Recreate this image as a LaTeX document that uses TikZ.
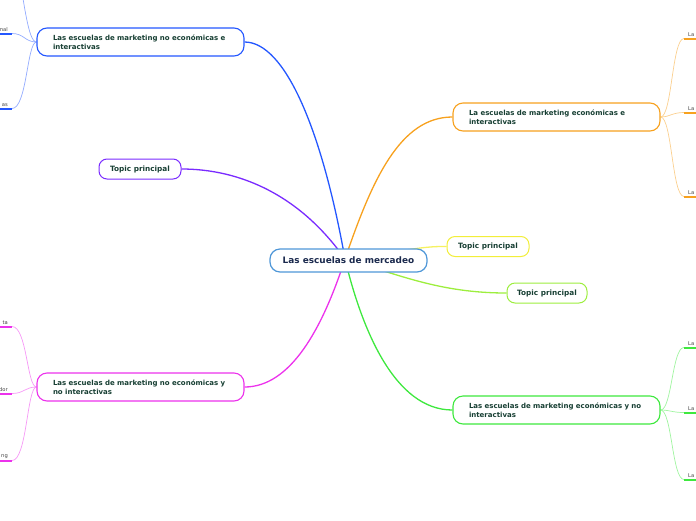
\documentclass[tikz,border=0pt]{standalone}
\usepackage{fontspec}
\setmainfont{DejaVu Sans}
\usetikzlibrary{backgrounds}

\definecolor{txtgreen}{HTML}{173F33}
\definecolor{txtnavy}{HTML}{1B2A4E}
\definecolor{leafgray}{HTML}{444444}
\definecolor{rootblue}{HTML}{4F97D8}
\definecolor{cblue}{HTML}{2457FF}
\definecolor{cpurple}{HTML}{7A2BFF}
\definecolor{corange}{HTML}{F7A11E}
\definecolor{cyellow}{HTML}{F2EE3A}
\definecolor{clime}{HTML}{9DEE3E}
\definecolor{cgreen}{HTML}{3EE83E}
\definecolor{cmagenta}{HTML}{EC32EC}

\begin{document}
\begin{tikzpicture}[x=1pt,y=-1pt,
  topic/.style={draw, rounded corners=10pt, line width=1.1pt, fill=white,
    font=\fontsize{7}{9.5}\selectfont\bfseries, text=txtgreen, align=left,
    text width=175pt, inner xsep=16pt, inner ysep=0pt, minimum height=28pt},
  subtopic/.style={draw, rounded corners=8pt, line width=1pt, fill=white,
    font=\fontsize{7.3}{8}\selectfont\bfseries, text=txtgreen,
    minimum width=82pt, minimum height=20pt, inner sep=0pt},
  leaf/.style={font=\fontsize{5.2}{6}\selectfont, text=leafgray, inner xsep=4pt, inner ysep=1.8pt},
  ul/.style={line width=2pt},
  twig/.style={line width=0.7pt},
  branch/.style={line width=1.3pt}]
\path[use as bounding box] (0,0) rectangle (696,520);

% central topic
\node[draw=rootblue, line width=1.2pt, rounded corners=10pt, fill=white,
  minimum width=157pt, minimum height=23pt, inner sep=0pt,
  font=\fontsize{8.9}{10}\selectfont\bfseries, text=txtnavy] (root) at (348.5,260.5) {Las escuelas de mercadeo};
\coordinate (hub) at (345,259);

% main topics
\node[topic, draw=cblue] (noeint) at (140.5,42) {Las escuelas de marketing no económicas e\\interactivas};
\node[topic, draw=corange] (ecoint) at (556.5,117) {La escuelas de marketing económicas e\\interactivas};
\node[topic, draw=cgreen] (econo) at (556.5,410) {Las escuelas de marketing económicas y no\\interactivas};
\node[topic, draw=cmagenta] (noeno) at (140.5,387) {Las escuelas de marketing no económicas y\\no interactivas};
\node[subtopic, draw=cpurple] (tp1) at (140,169) {Topic principal};
\node[subtopic, draw=cyellow] (tp2) at (488,246.5) {Topic principal};
\node[subtopic, draw=clime, minimum width=80pt] (tp3) at (547,293) {Topic principal};

% leaves, cut by the page edge
\node[leaf, anchor=south east] (b1) at (12,33.5) {nal};
\node[leaf, anchor=south east] (b2) at (12,108.5) {as};
\coordinate (b0) at (18,-30);
\node[leaf, anchor=south east] (m1) at (12,326.5) {ta};
\node[leaf, anchor=south east] (m2) at (12,393.5) {dor};
\node[leaf, anchor=south east] (m3) at (12,460.5) {ng};
\node[leaf, anchor=south west] (o1) at (684,38.5) {La};
\node[leaf, anchor=south west] (o2) at (684,112.5) {La};
\node[leaf, anchor=south west] (o3) at (684,196.5) {La};
\node[leaf, anchor=south west] (g1) at (684,347.5) {La};
\node[leaf, anchor=south west] (g2) at (684,412.5) {La};
\node[leaf, anchor=south west] (g3) at (684,479.5) {La};

\begin{scope}[on background layer]
% branches from the centre
\draw[branch, cblue] (noeint.east) .. controls (285,42) and (322,130) .. (hub);
\draw[branch, cpurple] (tp1.east) .. controls (240,169) and (300,195) .. (hub);
\draw[branch, corange] (ecoint.west) .. controls (400,117) and (372,180) .. (hub);
\draw[branch, cyellow!80!white] (tp2.west) .. controls (420,246) and (400,252) .. (hub);
\draw[branch, clime] (tp3.west) .. controls (440,293) and (400,275) .. (hub);
\draw[branch, cgreen] (econo.west) .. controls (395,410) and (362,330) .. (hub);
\draw[branch, cmagenta] (noeno.east) .. controls (290,387) and (322,330) .. (hub);

% twigs to the leaves
\draw[twig, cblue!50!white] (noeint.west) .. controls (28,42) and (24,0) .. (b0);
\draw[twig, cblue!50!white] (noeint.west) .. controls (25,42) and (24,33.5) .. (b1.south east);
\draw[twig, cblue!50!white] (noeint.west) .. controls (27,42) and (27,108.5) .. (b2.south east);
\draw[twig, cmagenta!50!white] (noeno.west) .. controls (27,387) and (27,326.5) .. (m1.south east);
\draw[twig, cmagenta!50!white] (noeno.west) .. controls (25,387) and (24,393.5) .. (m2.south east);
\draw[twig, cmagenta!50!white] (noeno.west) .. controls (27,387) and (27,460.5) .. (m3.south east);
\draw[twig, corange!50!white] (ecoint.east) .. controls (672,117) and (672,38.5) .. (o1.south west);
\draw[twig, corange!50!white] (ecoint.east) .. controls (670,117) and (672,112.5) .. (o2.south west);
\draw[twig, corange!50!white] (ecoint.east) .. controls (672,117) and (672,196.5) .. (o3.south west);
\draw[twig, cgreen!50!white] (econo.east) .. controls (672,410) and (672,347.5) .. (g1.south west);
\draw[twig, cgreen!50!white] (econo.east) .. controls (670,410) and (672,412.5) .. (g2.south west);
\draw[twig, cgreen!50!white] (econo.east) .. controls (672,410) and (672,479.5) .. (g3.south west);
\end{scope}

% leaf underlines
\foreach \lf/\col in {b1/cblue, b2/cblue, m1/cmagenta, m2/cmagenta, m3/cmagenta,
  o1/corange, o2/corange, o3/corange, g1/cgreen, g2/cgreen, g3/cgreen}
  \draw[ul, draw=\col] (\lf.south west) -- (\lf.south east);
\end{tikzpicture}
\end{document}
